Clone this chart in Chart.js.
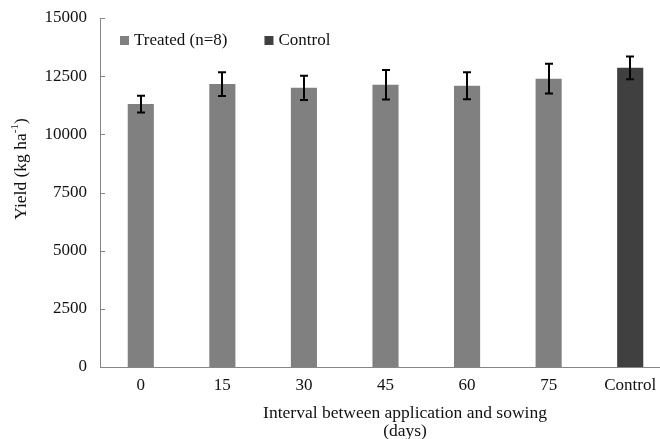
<!DOCTYPE html>
<html>
<head>
<meta charset="utf-8">
<script src="https://cdn.jsdelivr.net/npm/chart.js@4/dist/chart.umd.min.js"></script>
<style>
  html, body { margin: 0; padding: 0; overflow: hidden; background: #fff; }
  #wrap { position: relative; width: 680px; height: 439px; }
</style>
</head>
<body>
<div id="wrap"><canvas id="chart"></canvas></div>
<script>
// data
const categories = ["0", "15", "30", "45", "60", "75", "Control"];
const treatedYield = [11300, 12160, 12000, 12130, 12090, 12390, null];
const treatedErr = [360, 510, 520, 630, 580, 640, null];
const controlYield = [null, null, null, null, null, null, 12860];
const controlErr = [null, null, null, null, null, null, 490];
const yTickValues = [0, 2500, 5000, 7500, 10000, 12500, 15000];

const SERIF = "'Liberation Serif', 'Times New Roman', serif";
const axisColor = "#868686";

Chart.defaults.font.family = SERIF;
Chart.defaults.font.size = 17;
Chart.defaults.color = "#111";

// error bars, from each bar's own x and the y scale
const errorBars = {
  id: "errorBars",
  afterDatasetsDraw(chart) {
    const ctx = chart.ctx;
    const yScale = chart.scales.y;
    const errs = [treatedErr, controlErr];
    ctx.save();
    ctx.strokeStyle = "#000";
    ctx.lineWidth = 2;
    chart.data.datasets.forEach((ds, di) => {
      chart.getDatasetMeta(di).data.forEach((bar, i) => {
        const v = ds.data[i];
        const e = errs[di][i];
        if (v == null || e == null) return;
        const x = Math.round(bar.x);
        const top = yScale.getPixelForValue(v + e);
        const bot = yScale.getPixelForValue(v - e);
        ctx.beginPath();
        ctx.moveTo(x, top);
        ctx.lineTo(x, bot);
        ctx.moveTo(x - 4, top);
        ctx.lineTo(x + 4, top);
        ctx.moveTo(x - 4, bot);
        ctx.lineTo(x + 4, bot);
        ctx.stroke();
      });
    });
    ctx.restore();
  },
};

// inward y ticks, legend inside the plot, axis titles
const axisExtras = {
  id: "axisExtras",
  afterDraw(chart) {
    const ctx = chart.ctx;
    const y = chart.scales.y;
    const area = chart.chartArea;
    ctx.save();
    ctx.strokeStyle = axisColor;
    ctx.lineWidth = 1;
    ctx.beginPath();
    y.ticks.forEach((t, i) => {
      const py = Math.round(y.getPixelForTick(i)) + 0.5;
      ctx.moveTo(area.left, py);
      ctx.lineTo(area.left + 5, py);
    });
    ctx.stroke();

    // legend
    ctx.font = "17px " + SERIF;
    ctx.textAlign = "left";
    ctx.textBaseline = "middle";
    let lx = area.left + 20;
    chart.data.datasets.forEach((ds) => {
      ctx.fillStyle = ds.backgroundColor;
      ctx.fillRect(lx, 36, 9, 9);
      ctx.fillStyle = "#111";
      ctx.fillText(ds.label, lx + 14, 40.5);
      lx += 14 + ctx.measureText(ds.label).width + 37;
    });

    ctx.textAlign = "center";
    ctx.font = "17.5px " + SERIF;
    ctx.fillText("Interval between application and sowing", 405, 413);
    ctx.fillText("(days)", 405, 431);

    // y title with superscript -1
    ctx.translate(21, 169);
    ctx.rotate(-Math.PI / 2);
    const main = "Yield (kg ha";
    const sup = "-1";
    const close = ")";
    ctx.font = "17.5px " + SERIF;
    const wMain = ctx.measureText(main).width;
    const wClose = ctx.measureText(close).width;
    ctx.font = "11px " + SERIF;
    const wSup = ctx.measureText(sup).width;
    let x = -(wMain + wSup + wClose) / 2;
    ctx.textAlign = "left";
    ctx.font = "17.5px " + SERIF;
    ctx.fillText(main, x, 0);
    x += wMain;
    ctx.font = "11px " + SERIF;
    ctx.fillText(sup, x, -6);
    x += wSup;
    ctx.font = "17.5px " + SERIF;
    ctx.fillText(close, x, 0);
    ctx.restore();
  },
};

new Chart(document.getElementById("chart"), {
  type: "bar",
  data: {
    labels: categories,
    datasets: [
      {
        label: "Treated (n=8)",
        data: treatedYield,
        backgroundColor: "#808080",
        borderWidth: 0,
        grouped: false,
        barPercentage: 0.32,
        categoryPercentage: 1,
      },
      {
        label: "Control",
        data: controlYield,
        backgroundColor: "#404040",
        borderWidth: 0,
        grouped: false,
        barPercentage: 0.32,
        categoryPercentage: 1,
      },
    ],
  },
  options: {
    responsive: true,
    maintainAspectRatio: false,
    animation: false,
    layout: { padding: { top: 18, right: 9, bottom: 0, left: 0 } },
    plugins: {
      legend: { display: false },
      tooltip: { enabled: false },
    },
    scales: {
      x: {
        grid: { display: false, drawTicks: false },
        border: { display: true, color: axisColor, width: 1 },
        ticks: { padding: 8, color: "#111" },
        afterFit: (scale) => {
          scale.height = 72;
          scale.paddingLeft = 0;
          scale.paddingRight = 0;
        },
      },
      y: {
        min: 0,
        max: 15000,
        grid: { display: false, drawTicks: false },
        border: { display: true, color: axisColor, width: 1 },
        ticks: { padding: 13, color: "#111", callback: (v) => String(v) },
        afterBuildTicks: (scale) => {
          scale.ticks = yTickValues.map((v) => ({ value: v }));
        },
        afterFit: (scale) => {
          scale.width = 100;
          scale.paddingTop = 0;
          scale.paddingBottom = 0;
        },
      },
    },
  },
  plugins: [errorBars, axisExtras],
});
</script>
</body>
</html>
